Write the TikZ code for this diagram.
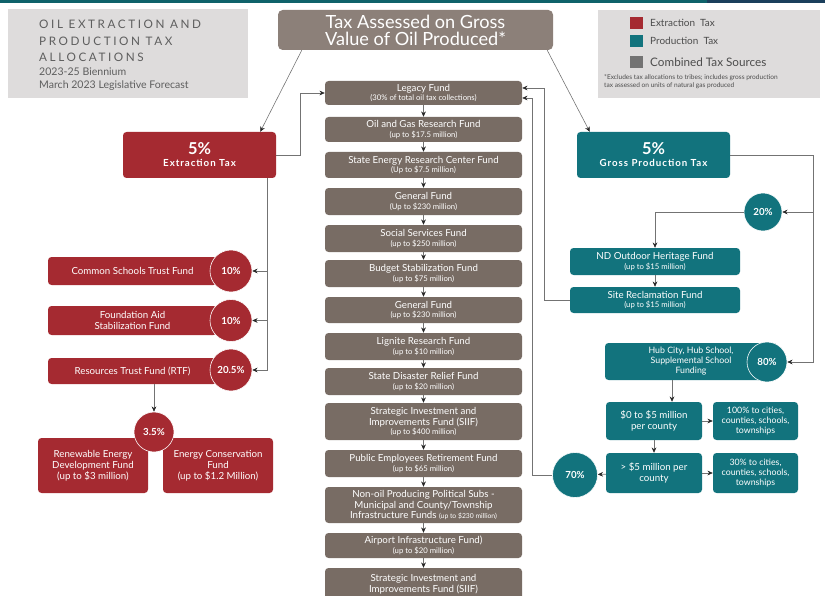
\documentclass[tikz,border=0pt]{standalone}
\usepackage{fontspec}
\setmainfont{Lato}
\usetikzlibrary{arrows.meta}

\definecolor{extred}{HTML}{A52A31}
\definecolor{prodteal}{HTML}{12737D}
\definecolor{combbrown}{HTML}{786C64}
\definecolor{topbrown}{HTML}{8C8079}
\definecolor{panelgray}{HTML}{DEDCDC}
\definecolor{titlegray}{HTML}{5E5E5E}
\definecolor{stripnavy}{HTML}{1B3F5C}

\newlength{\upx}\setlength{\upx}{0.03cm}
\newcommand{\fundfont}{\fontsize{8.3}{9.3}\selectfont}
\newcommand{\subline}[1]{{\fontsize{6.6}{7.4}\selectfont #1}}
\newcommand{\spaced}[1]{{\addfontfeatures{LetterSpace=10}#1}}

\begin{document}
\begin{tikzpicture}[x=0.03cm, y=-0.03cm,
    fund/.style={fill=combbrown, text=white, rounded corners=3pt, align=center,
        inner sep=0pt, minimum width=197\upx, font=\fundfont},
    exbox/.style={fill=extred, text=white, rounded corners=3pt, align=center,
        inner sep=0pt, font=\fundfont},
    prbox/.style={fill=prodteal, text=white, rounded corners=3pt, align=center,
        inner sep=0pt, font=\fundfont},
    pct/.style={circle, draw=white, line width=0.5pt, text=white, inner sep=0pt,
        font=\bfseries\fontsize{8.3}{9}\selectfont},
    conn/.style={draw=black!55, line width=0.5pt,
        -{Stealth[length=4.5pt, width=4pt, color=black!85]}},
    legtext/.style={anchor=west, inner sep=0pt, text=black!70}
]
\useasboundingbox (0,0) rectangle (825,595);

% top strip
\fill[prodteal!85!black] (0,0) rectangle (707,3);
\fill[stripnavy] (707,0) rectangle (825,3);

% title panel
\fill[panelgray] (8,9) rectangle (248,98);
\begin{scope}[every node/.style={anchor=west, inner sep=0pt, text=titlegray}]
    \node (tl1) at (39,24) {\fontsize{10}{11}\selectfont\addfontfeatures{LetterSpace=22}OIL EXTRACTION AND};
    \node (tl2) at (39,41) {\fontsize{10}{11}\selectfont\addfontfeatures{LetterSpace=22}PRODUCTION TAX};
    \node (tl3) at (39,57) {\fontsize{10}{11}\selectfont\addfontfeatures{LetterSpace=22}ALLOCATIONS};
    \node (tl4) at (39,72) {\fontsize{9}{10}\selectfont 2023-25 Biennium};
    \node (tl5) at (39,86) {\fontsize{9}{10}\selectfont March 2023 Legislative Forecast};
\end{scope}

% legend panel
\fill[panelgray] (598,10) rectangle (820,98);
\fill[extred] (630,17) rectangle (643,29);
\fill[prodteal] (630,35) rectangle (643,47);
\fill[black!55] (630,56) rectangle (643,68);
\node[legtext, font=\fontsize{8.5}{9}\selectfont] (lg1) at (650,23) {Extraction\ \ Tax};
\node[legtext, font=\fontsize{8.5}{9}\selectfont] (lg2) at (650,41) {Production\ \ Tax};
\node[legtext, font=\fontsize{10}{11}\selectfont] (lg3) at (650,62) {Combined Tax Sources};
\node[anchor=north west, inner sep=0pt, align=left, text=black!70,
    font=\fontsize{5.6}{7}\selectfont] (fnote) at (604,74)
    {*Excludes tax allocations to tribes; includes gross production\\tax assessed on units of natural gas produced};

% source and the two taxes
\node[fill=topbrown, text=white, rounded corners=4pt, align=center,
    minimum width=275\upx, minimum height=40\upx, inner sep=0pt,
    font=\fontsize{15.5}{14.5}\selectfont] (taxsrc) at (415.5,30)
    {Tax Assessed on Gross\\Value of Oil Produced*};
\node[exbox, minimum width=153\upx, minimum height=46\upx] (extax) at (199.5,155)
    {{\bfseries\fontsize{14}{15}\selectfont 5\%}\\[1pt]{\bfseries\spaced{Extraction Tax}}};
\node[prbox, minimum width=153\upx, minimum height=46\upx] (prtax) at (653.5,155)
    {{\bfseries\fontsize{14}{15}\selectfont 5\%}\\[1pt]{\bfseries\spaced{Gross Production Tax}}};

% combined sources, top to bottom
\node[fund, minimum height=24\upx] (f1) at (423.5,93) {Legacy Fund\\[-1pt]\subline{(30\% of total oil tax collections)}};
\node[fund, minimum height=25\upx] (f2) at (423.5,129.5) {Oil and Gas Research Fund\\[-1pt]\subline{(up to \$17.5 million)}};
\node[fund, minimum height=26\upx] (f3) at (423.5,165) {State Energy Research Center Fund\\[-1pt]\subline{(Up to \$7.5 million)}};
\node[fund, minimum height=27\upx] (f4) at (423.5,201.5) {General Fund\\[-1pt]\subline{(Up to \$230 million)}};
\node[fund, minimum height=27\upx] (f5) at (423.5,238.5) {Social Services Fund\\[-1pt]\subline{(up to \$250 million)}};
\node[fund, minimum height=27\upx] (f6) at (423.5,273.5) {Budget Stabilization Fund\\[-1pt]\subline{(up to \$75 million)}};
\node[fund, minimum height=26\upx] (f7) at (423.5,310) {General Fund\\[-1pt]\subline{(up to \$230 million)}};
\node[fund, minimum height=27\upx] (f8) at (423.5,346.5) {Lignite Research Fund\\[-1pt]\subline{(up to \$10 million)}};
\node[fund, minimum height=27\upx] (f9) at (423.5,381.5) {State Disaster Relief Fund\\[-1pt]\subline{(up to \$20 million)}};
\node[fund, minimum height=37\upx] (f10) at (423.5,421.5) {Strategic Investment and\\Improvements Fund (SIIF)\\[-1pt]\subline{(up to \$400 million)}};
\node[fund, minimum height=27\upx] (f11) at (423.5,463.5) {Public Employees Retirement Fund\\[-1pt]\subline{(up to \$65 million)}};
\node[fund, minimum height=36\upx] (f12) at (423.5,505) {Non-oil Producing Political Subs -\\Municipal and County/Township\\Infrastructure Funds {\fontsize{5.8}{7}\selectfont(up to \$230 million)}};
\node[fund, minimum height=25\upx] (f13) at (423.5,545.5) {Airport Infrastructure Fund)\\[-1pt]\subline{(up to \$20 million)}};
\node[fund, minimum height=32\upx] (f14) at (423.5,584) {Strategic Investment and\\Improvements Fund (SIIF)};
\foreach \i [count=\j from 2] in {1,...,13}
    \draw[conn] (f\i) -- (f\j);

% extraction tax side
\node[exbox, minimum width=169\upx, minimum height=28\upx] (csf) at (132.5,271) {Common Schools Trust Fund};
\node[exbox, minimum width=169\upx, minimum height=29\upx] (fasf) at (132.5,320.5) {Foundation Aid\\Stabilization Fund};
\node[exbox, minimum width=169\upx, minimum height=26\upx] (rtf) at (132.5,371) {Resources Trust Fund (RTF)};
\node[exbox, minimum width=110\upx, minimum height=55\upx] (redf) at (93,465.5) {Renewable Energy\\Development Fund\\(up to \$3 million)};
\node[exbox, minimum width=110\upx, minimum height=55\upx] (ecf) at (218,465.5) {Energy Conservation\\Fund\\(up to \$1.2 Million)};
\node[pct, fill=extred, minimum size=42\upx] (p10a) at (231,271) {10\%};
\node[pct, fill=extred, minimum size=42\upx] (p10b) at (231,320.5) {10\%};
\node[pct, fill=extred, minimum size=42\upx] (p205) at (231,370) {20.5\%};
\node[pct, fill=extred, minimum size=40\upx] (p35) at (154,432) {3.5\%};

% production tax side
\node[prbox, minimum width=170\upx, minimum height=27\upx] (ndoh) at (655,261.5) {ND Outdoor Heritage Fund\\[-1pt]\subline{(up to \$15 million)}};
\node[prbox, minimum width=170\upx, minimum height=26\upx] (srf) at (655,300) {Site Reclamation Fund\\[-1pt]\subline{(up to \$15 million)}};
\node[prbox, minimum width=172\upx, minimum height=37\upx, font=\fontsize{7.5}{8.5}\selectfont] (hub) at (691,361.5) {Hub City, Hub School,\\Supplemental School\\Funding};
\node[prbox, minimum width=96\upx, minimum height=38\upx] (low) at (654,421) {\$0 to \$5 million\\per county};
\node[prbox, minimum width=85\upx, minimum height=38\upx, font=\fontsize{7.5}{8.5}\selectfont] (all) at (755.5,421) {100\% to cities,\\counties, schools,\\townships};
\node[prbox, minimum width=96\upx, minimum height=40\upx] (high) at (654,473) {> \$5 million per\\county};
\node[prbox, minimum width=85\upx, minimum height=40\upx, font=\fontsize{7.5}{8.5}\selectfont] (part) at (755.5,473) {30\% to cities,\\counties, schools,\\townships};
\node[pct, fill=prodteal, minimum size=38\upx] (p20) at (763,212) {20\%};
\node[pct, fill=prodteal, minimum size=40\upx] (p80) at (767,362) {80\%};
\node[pct, fill=prodteal, minimum size=45\upx] (p70) at (575,475) {70\%};

\coordinate (ltrunk) at (267,0);
\coordinate (rtrunk) at (813,0);

% connectors
\draw[conn] ([xshift=24\upx]taxsrc.south west) -- ([xshift=-16\upx]extax.north east);
\draw[conn] ([xshift=-6\upx]taxsrc.south east) -- ([xshift=13\upx]prtax.north west);
\draw[conn] (extax.east) -- ++(24,0) |- (f1.west);
\draw[conn] (extax.south -| ltrunk) |- (p205);
\draw[conn] (ltrunk |- p10a) -- (p10a);
\draw[conn] (ltrunk |- p10b) -- (p10b);
\draw[conn] (p35 |- rtf.south) -- (p35);
\draw[conn] (prtax.east) -| (rtrunk |- p80) -- (p80);
\draw[conn] (rtrunk |- p20) -- (p20);
\draw[conn] (p20.west) -| (ndoh.north);
\draw[conn] (ndoh) -- (srf);
\draw[conn] (srf.west) -- ++(-25,0) |- ([yshift=5\upx]f1.east);
\draw[conn] ([xshift=-19\upx]hub.south) -- ([xshift=-19\upx]hub.south |- low.north);
\draw[conn] (low) -- (all);
\draw[conn] (low) -- (high);
\draw[conn] (high) -- (part);
\draw[conn] (high) -- (p70);
\draw[conn] (p70.west) -- ++(-20,0) |- ([yshift=-5\upx]f1.east);
\end{tikzpicture}
\end{document}
